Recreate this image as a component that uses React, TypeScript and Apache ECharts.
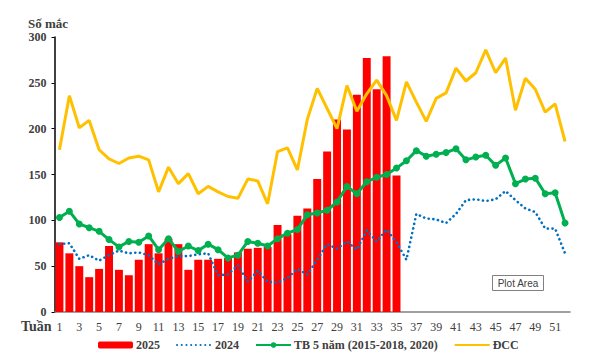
import React, { useEffect, useRef } from "react";
import * as echarts from "echarts";

const weeks: string[] = Array.from({ length: 52 }, (_, i) => String(i + 1));

const cases2025: number[] = [
  76, 64, 50, 38, 47, 72, 46, 40, 57, 74, 64, 80, 74, 46, 57, 57, 58, 59, 65, 69,
  70, 71, 95, 85, 105, 113, 145, 175, 210, 199, 237, 277, 243, 279, 149,
];

const cases2024: number[] = [
  74, 75, 58, 62, 56, 62, 67, 64, 65, 62, 52, 58, 61, 61, 63, 64, 40, 41, 51, 33,
  45, 33, 32, 37, 47, 41, 57, 74, 69, 77, 68, 89, 77, 90, 76, 57, 107, 102, 101, 97,
  107, 122, 123, 121, 123, 132, 122, 113, 109, 91, 91, 64,
];

const avg5y: number[] = [
  103, 110, 96, 92, 88, 79, 71, 77, 76, 83, 68, 80, 66, 72, 67, 74, 68, 59, 62, 77,
  75, 72, 80, 86, 90, 106, 108, 111, 120, 137, 129, 142, 147, 150, 157, 165, 176, 170, 172, 174,
  178, 166, 169, 171, 160, 168, 140, 145, 146, 129, 130, 97,
];

const dcc: number[] = [
  177, 236, 201, 209, 177, 167, 162, 168, 170, 166, 131, 158, 140, 151, 129, 137, 131, 126, 124, 145,
  143, 118, 175, 179, 155, 210, 244, 222, 200, 247, 219, 238, 253, 236, 209, 251, 229, 208, 233, 239,
  266, 252, 261, 286, 261, 277, 220, 255, 243, 218, 227, 186,
];

const yTicks = { min: 0, max: 300, interval: 50 };

const FONT = "'Liberation Serif', 'Times New Roman', serif";
const TXT = "#404040";

export default function App() {
  const ref = useRef<HTMLDivElement>(null);
  useEffect(() => {
    document.body.style.margin = "0";
    if (!ref.current) return;
    const chart = echarts.init(ref.current, null, { renderer: "svg" });
    chart.setOption({
      animation: false,
      backgroundColor: "#ffffff",
      grid: { left: 54.5, right: 30, top: 37, bottom: 46, containLabel: false },
      xAxis: {
        type: "category",
        data: weeks,
        boundaryGap: true,
        axisLine: { show: true, lineStyle: { color: "#808080", width: 1.5 } },
        axisTick: { show: false },
        axisLabel: {
          interval: 1,
          fontFamily: FONT,
          fontSize: 12,
          color: TXT,
          margin: 9,
        },
        splitLine: { show: false },
      },
      yAxis: {
        type: "value",
        min: yTicks.min,
        max: yTicks.max,
        interval: yTicks.interval,
        axisLine: { show: true, lineStyle: { color: "#000000", width: 1.5 } },
        axisTick: { show: true, length: 3, inside: false, lineStyle: { color: "#000000" } },
        axisLabel: {
          fontFamily: FONT,
          fontSize: 12,
          fontWeight: "bold",
          color: TXT,
          margin: 8,
        },
        splitLine: { show: false },
      },
      legend: {
        left: 93,
        top: 334,
        itemWidth: 35,
        itemHeight: 7,
        itemGap: 16,
        textStyle: { fontFamily: FONT, fontSize: 12, fontWeight: "bold", color: TXT, padding: [0, 0, 0, -2] },
        data: [
          { name: "2025" },
          { name: "2024", itemStyle: { opacity: 0 } },
          { name: "TB 5 năm (2015-2018, 2020)" },
          { name: "ĐCC", itemStyle: { opacity: 0 } },
        ],
      },
      graphic: [
        {
          type: "text",
          left: 28,
          top: 17,
          style: { text: "Số mắc", font: `bold 13px ${FONT}`, fill: TXT },
        },
        {
          type: "text",
          left: 21,
          top: 319,
          style: { text: "Tuần", font: `bold 14px ${FONT}`, fill: TXT },
        },
        {
          type: "rect",
          shape: { x: 492.5, y: 275.5, width: 51, height: 15 },
          style: { fill: "#ffffff", stroke: "#808080", lineWidth: 1 },
        },
        {
          type: "text",
          x: 518,
          y: 283,
          style: {
            text: "Plot Area",
            font: "10px 'Liberation Sans', Arial, sans-serif",
            fill: TXT,
            align: "center",
            verticalAlign: "middle",
          },
        },
      ],
      series: [
        {
          name: "2025",
          type: "bar",
          data: cases2025,
          barCategoryGap: "20%",
          itemStyle: { color: "#FF0000" },
        },
        {
          name: "2024",
          type: "line",
          data: cases2024,
          symbol: "none",
          lineStyle: { color: "#0070C0", width: 2.6, type: [0.1, 4.6], cap: "round" },
          itemStyle: { color: "#0070C0" },
          z: 3,
        },
        {
          name: "TB 5 năm (2015-2018, 2020)",
          type: "line",
          data: avg5y,
          symbol: "circle",
          symbolSize: 7,
          showAllSymbol: true,
          lineStyle: { color: "#00B050", width: 3 },
          itemStyle: { color: "#00B050" },
          z: 4,
        },
        {
          name: "ĐCC",
          type: "line",
          data: dcc,
          symbol: "none",
          lineStyle: { color: "#FFC000", width: 3 },
          itemStyle: { color: "#FFC000" },
          z: 5,
        },
      ],
    });
    return () => chart.dispose();
  }, []);
  return <div ref={ref} style={{ width: 600, height: 358 }} />;
}
